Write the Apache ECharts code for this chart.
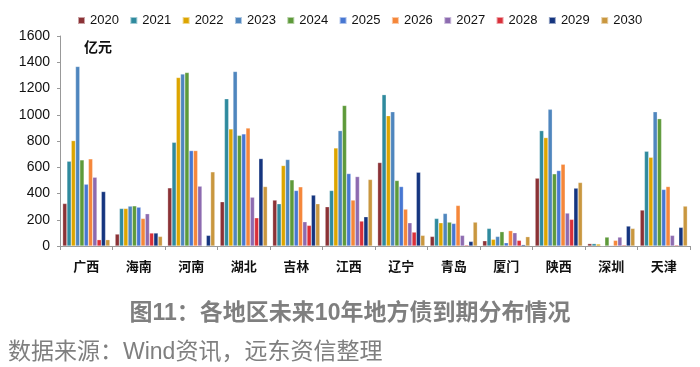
<!DOCTYPE html>
<html><head><meta charset="utf-8">
<script src="https://cdn.jsdelivr.net/npm/echarts@6/dist/echarts.min.js"></script>
<style>html,body{margin:0;padding:0;background:#fff}#c{width:700px;height:367px}</style>
</head><body><div id="c"></div>
<script>
const regions = ['广西','海南','河南','湖北','吉林','江西','辽宁','青岛','厦门','陕西','深圳','天津'];
const years = ['2020','2021','2022','2023','2024','2025','2026','2027','2028','2029','2030'];
const yTicks = [0,200,400,600,800,1000,1200,1400,1600];
const v2020 = [324, 91, 443, 337, 350, 299, 636, 73, 40, 517, 18, 274];
const v2021 = [646, 286, 790, 1122, 322, 423, 1153, 210, 134, 879, 18, 722];
const v2022 = [803, 286, 1284, 892, 613, 747, 993, 177, 51, 826, 15, 676];
const v2023 = [1368, 304, 1310, 1330, 659, 879, 1023, 248, 73, 1041, 3, 1023];
const v2024 = [656, 306, 1322, 843, 504, 1071, 499, 182, 109, 550, 68, 970];
const v2025 = [471, 296, 727, 854, 423, 552, 453, 172, 25, 575, 5, 431];
const v2026 = [664, 210, 727, 899, 451, 350, 281, 309, 117, 623, 43, 453];
const v2027 = [524, 246, 456, 372, 185, 529, 177, 81, 101, 251, 68, 81];
const v2028 = [48, 99, 0, 215, 157, 190, 106, 8, 43, 203, 8, 8];
const v2029 = [415, 99, 81, 666, 388, 223, 562, 35, 10, 441, 152, 142];
const v2030 = [48, 73, 565, 453, 322, 507, 81, 182, 71, 484, 134, 304];
const values = [v2020,v2021,v2022,v2023,v2024,v2025,v2026,v2027,v2028,v2029,v2030];
const colors = ['#8B3236','#2F8A9E','#DDA500','#4F86BE','#5E9A3A','#4777D2','#F5873A','#8D6BB0','#D9303A','#15357F','#C9973F'];
const FF = '"Liberation Sans", "Noto Sans CJK SC", sans-serif';

const chart = echarts.init(document.getElementById('c'), null, {renderer:'canvas'});
chart.setOption({
  animation:false,
  color: colors,
  title: [
    {text:'图11：各地区未来10年地方债到期分布情况', left:'center', top:297,
     textStyle:{fontFamily:FF, fontSize:23, fontWeight:'bold', color:'#7f7f7f'}},
    {text:'数据来源：Wind资讯，远东资信整理', left:3, top:336,
     textStyle:{fontFamily:FF, fontSize:23, fontWeight:'normal', color:'#7f7f7f'}},
    {text:'亿元', left:79, top:36,
     textStyle:{fontFamily:FF, fontSize:14, fontWeight:'bold', color:'#111'}}
  ],
  legend: {
    data: years, top:9, left:72, itemWidth:7, itemHeight:7, itemGap:10.4,
    icon:'rect',
    textStyle:{fontFamily:FF, fontSize:13, color:'#111'}
  },
  grid: {left:60, right:10, top:36, bottom:121},
  xAxis: {
    type:'category', data: regions,
    axisLine:{lineStyle:{color:'#999'}},
    axisTick:{show:true, lineStyle:{color:'#999'}, length:4},
    axisLabel:{fontFamily:FF, fontSize:13, fontWeight:'bold', color:'#111', margin:15}
  },
  yAxis: {
    type:'value', min:yTicks[0], max:yTicks[yTicks.length-1], interval:200,
    axisLine:{show:true, lineStyle:{color:'#999'}},
    axisTick:{show:true, length:3, lineStyle:{color:'#999'}},
    splitLine:{show:false},
    axisLabel:{fontFamily:FF, fontSize:14, color:'#111', margin:10, formatter:(v)=>String(v)}
  },
  series: years.map((y,i)=>({
    name:y, type:'bar', data: values[i], barGap:'0%', barCategoryGap:'10%',
    itemStyle:{borderColor:'rgba(255,255,255,0.55)', borderWidth:0.5}
  }))
});
</script></body></html>
